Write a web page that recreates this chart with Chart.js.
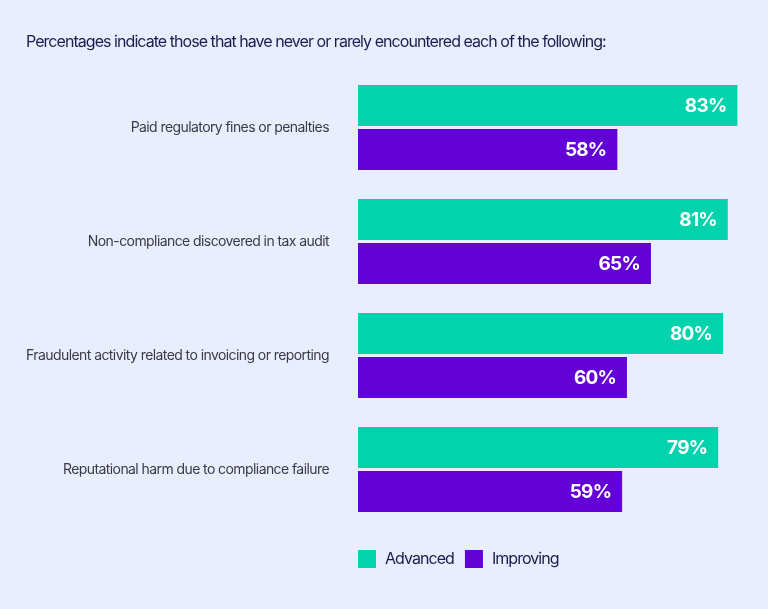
<!DOCTYPE html>
<html>
<head>
<meta charset="utf-8">
<script src="https://cdn.jsdelivr.net/npm/chart.js@4"></script>
<style>
  html, body { margin: 0; padding: 0; background: #E9EEFF; }
  #wrap { width: 768px; height: 609px; }
</style>
</head>
<body>
<div id="wrap"><canvas id="c" width="768" height="609"></canvas></div>
<script>
const titleText = "Percentages indicate those that have never or rarely encountered each of the following:";
const categories = [
  "Paid regulatory fines or penalties",
  "Non-compliance discovered in tax audit",
  "Fraudulent activity related to invoicing or reporting",
  "Reputational harm due to compliance failure"
];
const seriesNames = ["Advanced", "Improving"];
const advancedValues = [83, 81, 80, 79];
const improvingValues = [58, 65, 60, 59];
const seriesColors = ["#02D3AC", "#6202D6"];

function setSpacing(ctx, v) {
  if ('letterSpacing' in ctx) ctx.letterSpacing = v;
}

const tightText = {
  id: 'tightText',
  beforeUpdate(chart) { setSpacing(chart.ctx, '-0.58px'); },
  beforeLayout(chart) { setSpacing(chart.ctx, '-0.58px'); },
  beforeDraw(chart) { setSpacing(chart.ctx, '-0.58px'); }
};

const customTitle = {
  id: 'customTitle',
  afterDraw(chart) {
    const ctx = chart.ctx;
    ctx.save();
    setSpacing(ctx, '-0.95px');
    ctx.font = '400 16px Inter';
    ctx.fillStyle = '#1F1B4D';
    ctx.textAlign = 'left';
    ctx.textBaseline = 'alphabetic';
    ctx.fillText(titleText, 26, 47);
    ctx.restore();
  }
};

const valueLabels = {
  id: 'valueLabels',
  afterDatasetsDraw(chart) {
    const ctx = chart.ctx;
    ctx.save();
    setSpacing(ctx, '-0.8px');
    ctx.fillStyle = '#FFFFFF';
    ctx.font = '700 19px Inter';
    ctx.textAlign = 'right';
    ctx.textBaseline = 'middle';
    chart.data.datasets.forEach((ds, di) => {
      const meta = chart.getDatasetMeta(di);
      meta.data.forEach((bar, i) => {
        ctx.fillText(ds.data[i] + '%', bar.x - 11, bar.y + 1);
      });
    });
    ctx.restore();
  }
};

const customLegend = {
  id: 'customLegend',
  afterDraw(chart) {
    const ctx = chart.ctx;
    ctx.save();
    setSpacing(ctx, '-0.95px');
    ctx.font = '400 16px Inter';
    ctx.textBaseline = 'middle';
    ctx.textAlign = 'left';
    let x = chart.chartArea.left;
    const y = 559;
    chart.data.datasets.forEach((ds) => {
      ctx.fillStyle = ds.backgroundColor;
      ctx.fillRect(x, y - 9, 18, 18);
      ctx.fillStyle = '#1F1B4D';
      ctx.fillText(ds.label, x + 27, y);
      x += 27 + ctx.measureText(ds.label).width + 11;
    });
    ctx.restore();
  }
};

new Chart(document.getElementById('c'), {
  type: 'bar',
  data: {
    labels: categories,
    datasets: [
      { label: seriesNames[0], data: advancedValues, backgroundColor: seriesColors[0] },
      { label: seriesNames[1], data: improvingValues, backgroundColor: seriesColors[1] }
    ]
  },
  options: {
    indexAxis: 'y',
    responsive: false,
    animation: false,
    devicePixelRatio: 1,
    categoryPercentage: 0.772,
    barPercentage: 0.932,
    layout: { padding: { left: 0, right: 21, top: 70.5, bottom: 82.5 } },
    plugins: {
      legend: { display: false },
      tooltip: { enabled: false },
      title: { display: false }
    },
    scales: {
      x: {
        min: 4,
        max: 85,
        display: false
      },
      y: {
        grid: { display: false, drawTicks: false },
        border: { display: false },
        ticks: {
          color: '#3A3A48',
          font: { family: 'Inter', size: 14 },
          padding: 29
        },
        afterFit(scale) { scale.width = 358; }
      }
    }
  },
  plugins: [tightText, customTitle, valueLabels, customLegend]
});
</script>
</body>
</html>
